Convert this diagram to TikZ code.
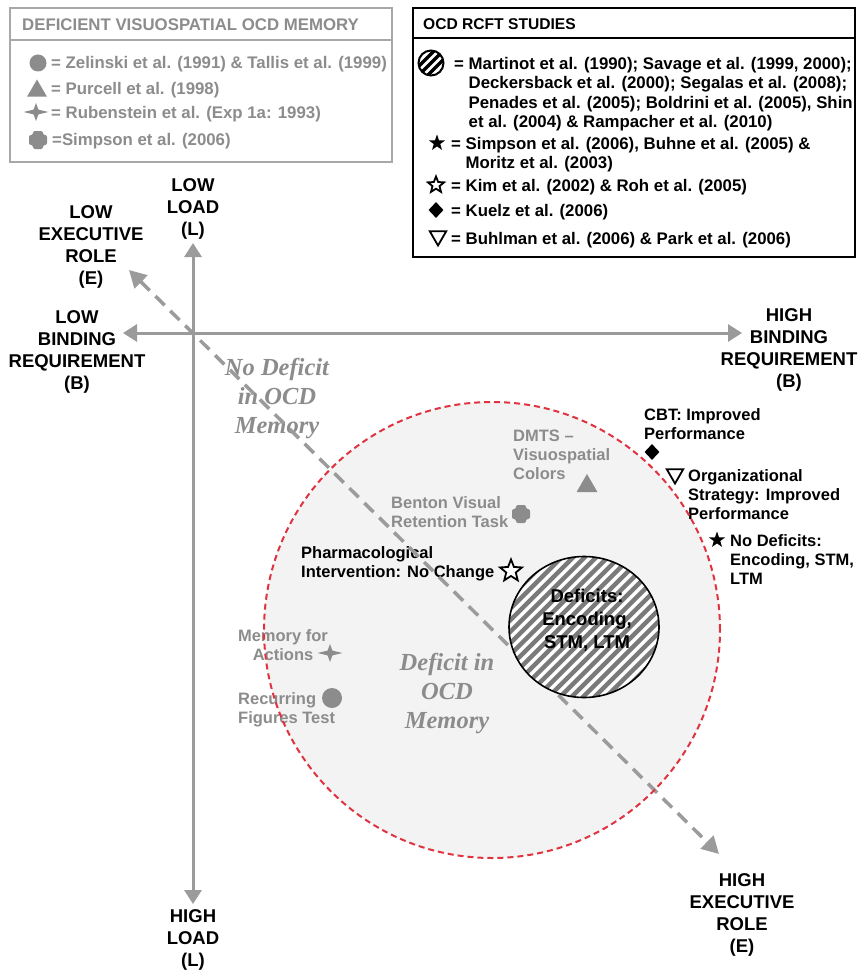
\documentclass[tikz,border=0pt]{standalone}
\usepackage{fontspec}
\setmainfont{Liberation Sans}
\newfontfamily\zoneserif{Liberation Serif}
\usetikzlibrary{arrows.meta,shapes.geometric,calc}

\definecolor{axisgray}{HTML}{9B9B9B}
\definecolor{labgray}{HTML}{8C8C8C}
\definecolor{framegray}{HTML}{A8A8A8}
\definecolor{zonefill}{HTML}{F3F3F3}
\definecolor{hatchgray}{HTML}{7A7A7A}
\definecolor{dashred}{HTML}{E03340}

\begin{document}
\begin{tikzpicture}[x=1pt,y=-1pt,
  legendgray/.style={font=\fontsize{16.8}{19.5}\selectfont\bfseries, text=labgray, inner sep=0pt},
  legendblack/.style={font=\fontsize{16.8}{19.5}\selectfont\bfseries, text=black, inner sep=0pt},
  axislabel/.style={font=\fontsize{18.5}{22}\selectfont\bfseries, align=center, inner sep=0pt, anchor=north},
  noteblack/.style={font=\fontsize{16.5}{19}\selectfont\bfseries, inner sep=0pt, anchor=north west, align=left},
  notegray/.style={noteblack, text=labgray},
  zonetext/.style={font=\zoneserif\bfseries\itshape\fontsize{24.5}{29}\selectfont, text=labgray, align=center, inner sep=0pt, anchor=north},
  axisarrow/.style={draw=axisgray, line width=3pt, -{Triangle[length=14pt,width=17pt]}},
  diagarrow/.style={draw=axisgray, line width=3.5pt, dash pattern=on 13pt off 8pt,
    {Triangle[length=17pt,width=18pt]}-{Triangle[length=17pt,width=18pt]}},
  graydot/.style={circle, fill=labgray, inner sep=0pt, minimum size=#1},
  graytri/.style={regular polygon, regular polygon sides=3, fill=labgray, inner sep=0pt, minimum size=#1},
  blackstar/.style={star, star points=5, star point ratio=2.5, fill=black, inner sep=0pt, minimum size=#1},
  openstar/.style={star, star points=5, star point ratio=2.3, draw=black, line width=1.8pt, fill=white, inner sep=0pt, minimum size=#1},
  blackdiamond/.style={diamond, fill=black, inner sep=0pt, minimum width=15pt, minimum height=16pt},
  opentri/.style={regular polygon, regular polygon sides=3, shape border rotate=180, draw=black, line width=1.8pt, fill=white, inner sep=0pt, minimum size=#1},
  hatchicon/.style={circle, draw=black, line width=2pt, fill=white, inner sep=0pt, minimum size=25pt,
    path picture={\foreach \k in {-1,0,1}{\draw[black, line width=3.3pt]
      ($(path picture bounding box.center)+(\k*9-15,15)$) -- ++(30,-30);}}},
  pics/sparkle/.style={code={\fill[labgray] (-12.5,0) -- (-2.4,-2.4) -- (0,-9) -- (2.4,-2.4) -- (12.5,0)
      -- (2.4,2.4) -- (0,9) -- (-2.4,2.4) -- cycle;}},
  pics/blob/.style={code={\fill[labgray, rounded corners=2pt] (-5,-9) -- (5,-9) -- (5,-5) -- (9,-5) -- (9,5)
      -- (5,5) -- (5,9) -- (-5,9) -- (-5,5) -- (-9,5) -- (-9,-5) -- (-5,-5) -- cycle;}}
]
\useasboundingbox (0,0) rectangle (862,971);
\fill[white] (0,0) rectangle (862,971);

% ---------- legend: deficient visuospatial OCD memory ----------
\draw[framegray, line width=1.3pt] (10,8) rectangle (392,162);
\draw[framegray, line width=1.3pt] (10,40) -- (392,40);
\node[legendgray, anchor=west] (legLhead) at (22,25) {DEFICIENT VISUOSPATIAL OCD MEMORY};
\node[graydot=17pt] (legLdot) at (38,63) {};
\node[legendgray, anchor=base west] (legLdotTxt) at (51,69) {= Zelinski et al. (1991) \& Tallis et al. (1999)};
\node[graytri=23pt] (legLtri) at (37,91) {};
\node[legendgray, anchor=base west] (legLtriTxt) at (51,95) {= Purcell et al. (1998)};
\pic at (36,112) {sparkle};
\node[legendgray, anchor=base west] (legLsparkTxt) at (51,118) {= Rubenstein et al. (Exp 1a: 1993)};
\pic at (38,140) {blob};
\node[legendgray, anchor=base west] (legLblobTxt) at (52,145) {=Simpson et al. (2006)};

% ---------- legend: OCD RCFT studies ----------
\draw[black, line width=1.4pt] (413,8) rectangle (855,257);
\draw[black, line width=1.4pt] (413,38) -- (855,38);
\node[legendblack, anchor=west, font=\fontsize{15.6}{18}\selectfont\bfseries] (legRhead) at (423,24) {OCD RCFT STUDIES};
\node[hatchicon] (legRhatch) at (431,63) {};
\node[legendblack, anchor=north west] (legRhatchTxt) at (454,55.4) {\begin{tabular}{@{}l@{ }l@{}}
  =&Martinot et al. (1990); Savage et al. (1999, 2000);\\
   &Deckersback et al. (2000); Segalas et al. (2008);\\
   &Penades et al. (2005); Boldrini et al. (2005), Shin\\
   &et al. (2004) \& Rampacher et al. (2010)\end{tabular}};
\node[blackstar=17pt] (legRstar) at (437,143) {};
\node[legendblack, anchor=north west] (legRstarTxt) at (451,135.4) {\begin{tabular}{@{}l@{ }l@{}}
  =&Simpson et al. (2006), Buhne et al. (2005) \&\\
   &Moritz et al. (2003)\end{tabular}};
\node[openstar=17pt] (legRostar) at (436,185) {};
\node[legendblack, anchor=base west] (legRostarTxt) at (451,191) {= Kim et al. (2002) \& Roh et al. (2005)};
\node[blackdiamond] (legRdiam) at (436,210) {};
\node[legendblack, anchor=base west] (legRdiamTxt) at (451,216) {= Kuelz et al. (2006)};
\node[opentri=19pt] (legRtri) at (438,236) {};
\node[legendblack, anchor=base west] (legRtriTxt) at (451,244) {= Buhlman et al. (2006) \& Park et al. (2006)};

% ---------- deficit zone ----------
\node[circle, fill=zonefill, minimum size=456pt, inner sep=0pt] (zone) at (492,630) {};

% ---------- axes ----------
\coordinate (O) at (193,333);
\coordinate (loadLow) at (193,243);
\coordinate (loadHigh) at (193,904);
\coordinate (bindLow) at (123,333);
\coordinate (bindHigh) at (742,333);
\coordinate (execLow) at (129,270);
\coordinate (execHigh) at (719,854);
\draw[axisarrow] (O) -- (loadLow);
\draw[axisarrow] (O) -- (loadHigh);
\draw[axisarrow] (O) -- (bindLow);
\draw[axisarrow] (O) -- (bindHigh);

\node[axislabel] (lblLoadLow) at (193,178.4) {LOW\\LOAD\\(L)};
\node[axislabel] (lblExecLow) at (91,205.4) {LOW\\EXECUTIVE\\ROLE\\(E)};
\node[axislabel] (lblBindLow) at (77,310.4) {LOW\\BINDING\\REQUIREMENT\\(B)};
\node[axislabel] (lblBindHigh) at (789,308.4) {HIGH\\BINDING\\REQUIREMENT\\(B)};
\node[axislabel] (lblLoadHigh) at (193,909.4) {HIGH\\LOAD\\(L)};
\node[axislabel] (lblExecHigh) at (742,873.4) {HIGH\\EXECUTIVE\\ROLE\\(E)};

% ---------- zone captions ----------
\node[zonetext] (noDeficit) at (277,358) {No Deficit\\in OCD\\Memory};
\node[zonetext] (deficit) at (447,653) {Deficit in\\OCD\\Memory};

% ---------- study markers and task labels ----------
\node[notegray] (dmts) at (513,430.1) {DMTS --\\Visuospatial\\Colors};
\node[graytri=24pt] (dmtsMark) at (587,486) {};
\node[notegray] (benton) at (391,496.1) {Benton Visual\\Retention Task};
\pic at (521,514) {blob};
\node[noteblack] (pharma) at (301,546.1) {Pharmacological\\Intervention: No Change};
\node[openstar=23pt] (pharmaMark) at (511,571) {};
\node[notegray, anchor=north, align=center] (actions) at (283,629.1) {Memory for\\Actions};
\pic at (330,653) {sparkle};
\node[notegray] (recurring) at (238,692.1) {Recurring\\Figures Test};
\node[graydot=20pt] (recurringMark) at (332,698) {};

\node[noteblack] (cbt) at (644,408.1) {CBT: Improved\\Performance};
\node[blackdiamond] (cbtMark) at (652,452) {};
\node[noteblack] (orgStrat) at (688,469.1) {Organizational\\Strategy: Improved\\Performance};
\node[opentri=19pt] (orgMark) at (675,474) {};
\node[noteblack] (noDef) at (730,534.1) {No Deficits:\\Encoding, STM,\\LTM};
\node[blackstar=17pt] (noDefMark) at (717,540) {};

% ---------- executive-role diagonal ----------
\draw[diagarrow] (execLow) -- (execHigh);

% ---------- core deficit region ----------
\node[ellipse, draw=black, line width=1.6pt, fill=white, minimum width=150pt, minimum height=141pt, inner sep=0pt,
  path picture={\foreach \k in {-11,...,11}{\draw[hatchgray, line width=4.4pt]
    ($(path picture bounding box.center)+(\k*11.5-100,100)$) -- ++(200,-200);}}] (core) at (584,627) {};
\node[font=\fontsize{18.5}{23}\selectfont\bfseries, align=center, inner sep=0pt] (coreTxt) at (587,620) {Deficits:\\Encoding,\\STM, LTM};

% ---------- zone border ----------
\draw[dashred, line width=2pt, dash pattern=on 6pt off 4pt] (zone.center) circle[radius=228pt];
\end{tikzpicture}
\end{document}
